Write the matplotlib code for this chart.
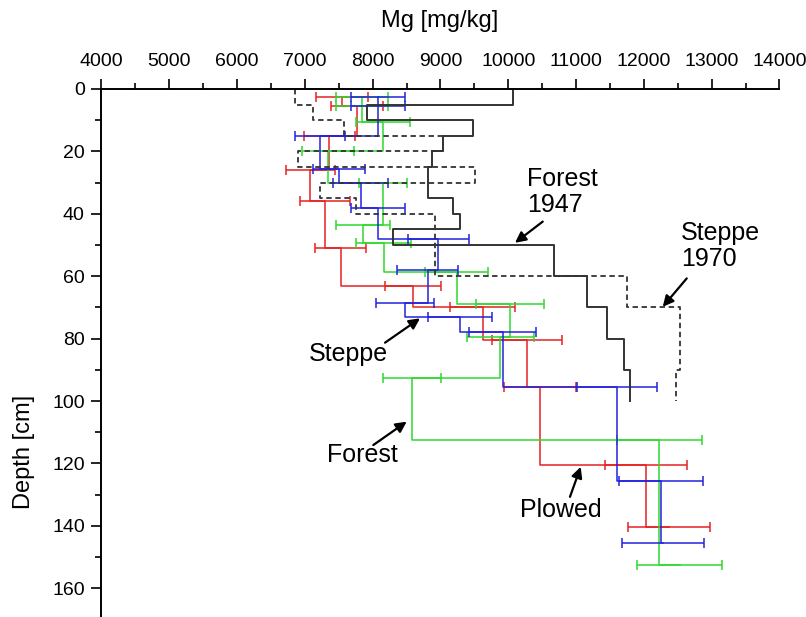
import matplotlib.pyplot as plt
from matplotlib.ticker import MultipleLocator

plt.rcParams['font.family'] = ['Liberation Sans', 'DejaVu Sans']

# Forest 1947 profile (black solid): layer tops [cm] and Mg [mg/kg]
forest1947_depth = [0, 5, 10, 15, 20, 25, 35, 40, 45, 50, 60, 70, 80, 90, 100]
forest1947_mg = [10070, 7910, 9480, 9040, 8870, 8815, 9180, 9290, 8300,
                 10670, 11160, 11460, 11710, 11800, 11800]

# Steppe 1970 profile (black dashed)
steppe1970_depth = [0, 5, 10, 15, 20, 25, 30, 35, 40, 60, 70, 90, 100]
steppe1970_mg = [6850, 7115, 7570, 9040, 6900, 9510, 7230, 7760, 8920,
                 11750, 12530, 12480, 12480]

# Plowed (red)
plowed_depth = [2.5, 5.5, 15, 26, 36, 51, 63, 70, 80.5, 95.5, 120.5, 140.5]
plowed_mg = [7550, 7770, 7360, 7080, 7300, 7530, 8590, 9620, 10280, 10470,
             12030, 12370]
plowed_err = [380, 380, 380, 360, 370, 375, 415, 480, 515, 530, 605, 605]

# Steppe (blue)
steppe_depth = [2.5, 5.5, 15, 25.5, 30, 38, 48, 58, 68.5, 73, 78, 95.5,
                125.5, 145.5]
steppe_mg = [8080, 8080, 7220, 7500, 7825, 8080, 8970, 8810, 8480, 9290,
             9920, 11600, 12250, 12280]
steppe_err = [400, 400, 370, 385, 405, 400, 450, 445, 425, 470, 495, 590,
              620, 605]

# Forest (green)
forest_depth = [2.5, 5.5, 10.5, 20, 30, 43.5, 49.5, 58.5, 69, 79.5, 92.5,
                112.5, 152.5]
forest_mg = [7840, 7840, 8150, 7340, 8150, 7860, 8160, 9240, 10020, 9880,
             8580, 12230, 12530]
forest_err = [385, 385, 400, 385, 355, 395, 400, 465, 500, 495, 430, 620, 625]

x_ticks = [4000, 5000, 6000, 7000, 8000, 9000, 10000, 11000, 12000, 13000, 14000]
y_ticks = [0, 20, 40, 60, 80, 100, 120, 140, 160]

fig = plt.figure(figsize=(8.06, 6.17), dpi=100)
ax = fig.add_axes([0.1259, 0.0, 0.8412, 0.8558])

colored = [
    (plowed_mg, plowed_depth, plowed_err, '#e52222'),
    (forest_mg, forest_depth, forest_err, '#2fd82f'),
    (steppe_mg, steppe_depth, steppe_err, '#2323dd'),
]
for mg, depth, err, col in colored:
    ax.plot(mg, depth, drawstyle='steps-pre', color=col, lw=1.1)
    ax.errorbar(mg, depth, xerr=err, fmt='none', ecolor=col,
                elinewidth=1.1, capsize=3.6, capthick=1.1)

ax.plot(forest1947_mg, forest1947_depth, drawstyle='steps-pre',
        color='#333333', lw=1.4)
ax.plot(steppe1970_mg, steppe1970_depth, drawstyle='steps-pre',
        color='#333333', lw=1.3, linestyle=(0, (3, 2)))

ax.set_xlim(4000, 14000)
ax.set_ylim(169.2, 0)
ax.set_xticks(x_ticks)
ax.set_yticks(y_ticks)
ax.xaxis.set_minor_locator(MultipleLocator(500))
ax.yaxis.set_minor_locator(MultipleLocator(10))
ax.xaxis.tick_top()

for s in ['right', 'bottom']:
    ax.spines[s].set_visible(False)
for s in ['top', 'left']:
    ax.spines[s].set_linewidth(1.4)

ax.tick_params(axis='x', which='major', length=7, width=1.2, labelsize=14, pad=7)
ax.tick_params(axis='x', which='minor', length=4, width=1.2)
ax.tick_params(axis='y', which='major', length=7, width=1.2, labelsize=14, pad=5)
ax.tick_params(axis='y', which='minor', length=4, width=1.2)

fig.text(0.546, 0.966, 'Mg [mg/kg]', fontsize=17, ha='center', va='center')
fig.text(0.030, 0.267, 'Depth [cm]', fontsize=17, rotation=90,
         ha='center', va='center')

arrow = dict(arrowstyle='-|>', color='black', lw=1.6, mutation_scale=16,
             shrinkA=0, shrinkB=0)
ax.text(10276, 33, 'Forest\n1947', fontsize=18, ha='left', va='center',
        linespacing=1.1)
ax.annotate('', xy=(10099, 49.3), xytext=(10508, 42.5), arrowprops=arrow)
ax.text(12548, 50.3, 'Steppe\n1970', fontsize=18, ha='left', va='center',
        linespacing=1.1)
ax.annotate('', xy=(12278, 69.8), xytext=(12632, 60.7), arrowprops=arrow)
ax.text(7636, 85, 'Steppe', fontsize=18, ha='center', va='center')
ax.annotate('', xy=(8698, 73.5), xytext=(8182, 81.3), arrowprops=arrow)
ax.text(7850, 117.3, 'Forest', fontsize=18, ha='center', va='center')
ax.annotate('', xy=(8502, 106.6), xytext=(8009, 114.1), arrowprops=arrow)
ax.text(10778, 135, 'Plowed', fontsize=18, ha='center', va='center')
ax.annotate('', xy=(11068, 121.1), xytext=(10910, 130.7), arrowprops=arrow)

fig.savefig('out.png', dpi=100)
